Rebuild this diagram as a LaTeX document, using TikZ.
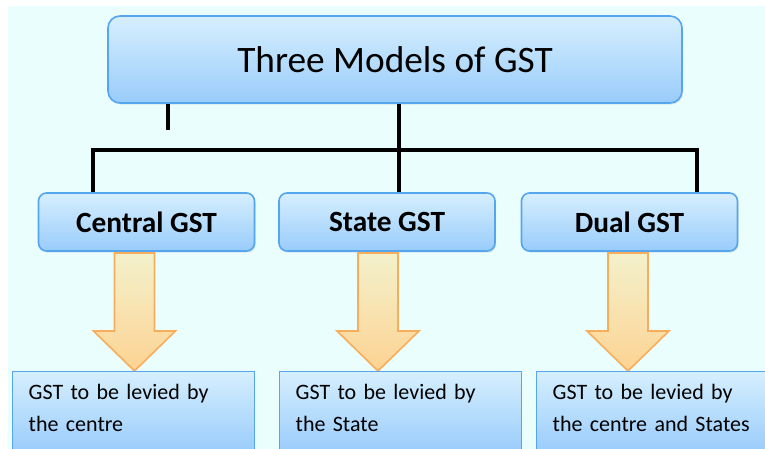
\documentclass[tikz,border=0pt]{standalone}
\usepackage{fontspec}
\setmainfont{Carlito}
\usetikzlibrary{shadows}
\definecolor{bgcyan}{HTML}{EBFEFE}
\definecolor{boxtop}{HTML}{D6EFFE}
\definecolor{boxbot}{HTML}{99CCFB}
\definecolor{boxline}{HTML}{55A6EE}
\definecolor{arrtop}{HTML}{F3F1CB}
\definecolor{arrbot}{HTML}{FDD393}
\definecolor{arrline}{HTML}{F8AD5A}

\begin{document}
\begin{tikzpicture}[x=0.75pt,y=-0.75pt,
    head box/.style={draw=boxline,line width=1.2pt,top color=boxtop,bottom color=boxbot,drop shadow={opacity=0.2,shadow xshift=0.8pt,shadow yshift=-1.2pt}},
    title box/.style={head box,rounded corners=9pt,minimum width=430.5pt,minimum height=65.25pt,font=\fontsize{28}{32}\selectfont},
    model box/.style={head box,rounded corners=6pt,minimum width=162pt,minimum height=43.5pt,font=\fontsize{22}{26}\selectfont\bfseries},
    note box/.style={draw=boxline,line width=1pt,top color=boxtop,bottom color=boxbot,anchor=north west,align=left,text width=157.5pt,inner xsep=12pt,inner ysep=9.4pt,text depth=30pt,font=\fontsize{16.5}{24}\selectfont},
    block arrow/.style={draw=arrline,line width=1.2pt,top color=arrtop,bottom color=arrbot,line join=miter},
    conn/.style={line width=2.3pt,black}]
    \useasboundingbox (0,0) rectangle (765,449);
    \clip (0,0) rectangle (765,449);
    \fill[bgcyan] (8,6) rectangle (765,449);

    \node[title box] (top) at (395,59.5) {Three Models of GST};
    \node[model box] (central) at (146.5,222) {Central GST};
    \node[model box] (state) at (387,222) {State GST};
    \node[model box] (dual) at (629.5,222) {Dual GST};

    % bus lines
    \coordinate (busl) at (93,150);
    \coordinate (busr) at (697,150);
    \coordinate (tick) at (168,130);
    \draw[conn] ([xshift=3pt]top.south) -- ([xshift=3pt]top.south |- state.north);
    \draw[conn] (central.north -| busl) -- (busl) -- (busr) -- (dual.north -| busr);
    \draw[conn] (tick |- top.south) -- (tick);

    % block arrows
    \foreach \x in {134.5,378,628}
        \draw[block arrow] ({\x-20},253) -- ({\x+20},253) -- ({\x+20},331) -- ({\x+41},331)
            -- (\x,371) -- ({\x-41},331) -- ({\x-20},331) -- cycle;

    \node[note box] (centrenote) at (12,371) {GST to be levied by\\the centre};
    \node[note box] (statenote) at (279,371) {GST to be levied by\\the State};
    \node[note box] (dualnote) at (536,371) {GST to be levied by\\the centre and States};
\end{tikzpicture}
\end{document}
